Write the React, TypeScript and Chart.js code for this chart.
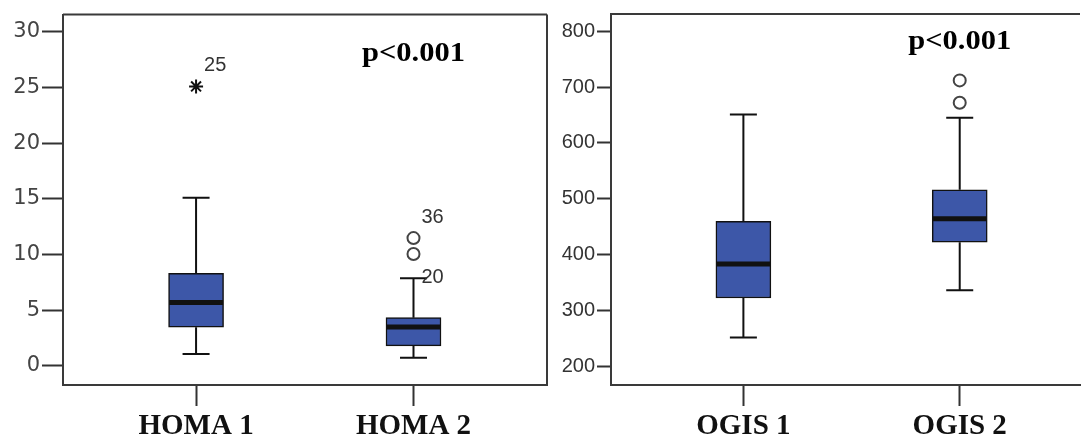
import React, { useEffect, useRef } from "react";
import { Chart, registerables } from "chart.js";

Chart.register(...registerables);

// ---------- HOMA panel data ----------
const homaCategories = ["HOMA 1", "HOMA 2"];
const homaMin = [1.05, 0.72];
const homaQ1 = [3.46, 1.79];
const homaMedian = [5.69, 3.49];
const homaQ3 = [8.31, 4.32];
const homaMax = [15.1, 7.86];
const homaExtremes = [{ cat: 1, value: 25.1 }];
const homaOutliers = [
  { cat: 2, value: 11.47 },
  { cat: 2, value: 10.04 },
];
const homaCaseLabels = [
  { cat: 1, value: 26.96, text: "25" },
  { cat: 2, value: 13.29, text: "36" },
  { cat: 2, value: 7.93, text: "20" },
];
const homaTicks = [0, 5, 10, 15, 20, 25, 30];
const homaRange = [-1.73, 31.55];
const homaP = { cat: 2, value: 28.0, text: "p<0.001" };

// ---------- OGIS panel data ----------
const ogisCategories = ["OGIS 1", "OGIS 2"];
const ogisMin = [251, 336];
const ogisQ1 = [322, 422];
const ogisMedian = [383, 464];
const ogisQ3 = [459.5, 516];
const ogisMax = [651, 645];
const ogisExtremes: { cat: number; value: number }[] = [];
const ogisOutliers = [
  { cat: 2, value: 712 },
  { cat: 2, value: 672 },
];
const ogisCaseLabels: { cat: number; value: number; text: string }[] = [];
const ogisTicks = [200, 300, 400, 500, 600, 700, 800];
const ogisRange = [166, 831];
const ogisP = { cat: 2, value: 780, text: "p<0.001" };

const BOX_FILL = "#3D57A8";
const INK = "#111";
const FRAME = "#3a3a3a";

const boxExtras = {
  id: "boxExtras",
  afterDatasetsDraw(chart: any) {
    const o = chart.options.plugins.boxExtras;
    if (!o) return;
    const { ctx, chartArea } = chart;
    const x = chart.scales.x;
    const y = chart.scales.y;
    ctx.save();
    // frame top and (optionally) right
    ctx.strokeStyle = FRAME;
    ctx.lineWidth = 2;
    ctx.beginPath();
    ctx.moveTo(chartArea.left, chartArea.top);
    ctx.lineTo(chartArea.right, chartArea.top);
    if (o.rightBorder) {
      ctx.moveTo(chartArea.right, chartArea.top);
      ctx.lineTo(chartArea.right, chartArea.bottom);
    }
    ctx.stroke();

    // whiskers, caps, medians
    o.min.forEach((mn: number, i: number) => {
      const px = x.getPixelForValue(i + 1);
      const yMin = y.getPixelForValue(mn);
      const yQ1 = y.getPixelForValue(o.q1[i]);
      const yQ3 = y.getPixelForValue(o.q3[i]);
      const yMax = y.getPixelForValue(o.max[i]);
      const yMed = y.getPixelForValue(o.median[i]);
      ctx.strokeStyle = INK;
      ctx.lineWidth = 2;
      ctx.beginPath();
      ctx.moveTo(px, yQ3);
      ctx.lineTo(px, yMax);
      ctx.moveTo(px, yQ1);
      ctx.lineTo(px, yMin);
      ctx.moveTo(px - 13.5, yMax);
      ctx.lineTo(px + 13.5, yMax);
      ctx.moveTo(px - 13.5, yMin);
      ctx.lineTo(px + 13.5, yMin);
      ctx.stroke();
      ctx.lineWidth = 5;
      ctx.beginPath();
      ctx.moveTo(px - 27, yMed);
      ctx.lineTo(px + 27, yMed);
      ctx.stroke();
    });

    // case labels
    ctx.fillStyle = "#333";
    ctx.font = '20px "Liberation Sans"';
    ctx.textAlign = "left";
    ctx.textBaseline = "middle";
    o.labels.forEach((l: any) => {
      ctx.fillText(l.text, x.getPixelForValue(l.cat) + 8, y.getPixelForValue(l.value));
    });

    // p value
    const p = o.p;
    ctx.fillStyle = "#000";
    ctx.font = 'bold 27px "Liberation Serif"';
    ctx.textAlign = "center";
    ctx.textBaseline = "middle";
    ctx.translate(x.getPixelForValue(p.cat), y.getPixelForValue(p.value));
    ctx.scale(1.13, 1);
    ctx.fillText(p.text, 0, 0);
    ctx.restore();
  },
};

function makeConfig(opts: any) {
  const positions = opts.categories.map((_: string, i: number) => i + 1);
  return {
    type: "bar",
    data: {
      datasets: [
        {
          type: "bar",
          data: positions.map((p: number, i: number) => ({ x: p, y: [opts.q1[i], opts.q3[i]] })),
          backgroundColor: BOX_FILL,
          borderColor: INK,
          borderWidth: 1.5,
          borderSkipped: false,
          barThickness: 55,
          order: 2,
        },
        {
          type: "scatter",
          data: opts.outliers.map((o: any) => ({ x: o.cat, y: o.value })),
          pointStyle: "circle",
          pointRadius: 6,
          pointBorderWidth: 2,
          pointBorderColor: "#444",
          pointBackgroundColor: "#fff",
          order: 1,
        },
        {
          type: "scatter",
          data: opts.extremes.map((o: any) => ({ x: o.cat, y: o.value })),
          pointStyle: "star",
          pointRadius: 7,
          pointBorderWidth: 2,
          pointBorderColor: INK,
          pointBackgroundColor: INK,
          order: 0,
        },
      ],
    },
    options: {
      responsive: false,
      animation: false,
      devicePixelRatio: 1,
      layout: { padding: { left: 0, top: 13, right: opts.padRight, bottom: 0 } },
      plugins: {
        legend: { display: false },
        tooltip: { enabled: false },
        boxExtras: {
          min: opts.min,
          q1: opts.q1,
          median: opts.median,
          q3: opts.q3,
          max: opts.max,
          labels: opts.labels,
          p: opts.p,
          rightBorder: opts.rightBorder,
        },
      },
      scales: {
        x: {
          type: "linear",
          min: opts.xMin,
          max: opts.xMax,
          offset: false,
          afterBuildTicks: (s: any) => {
            s.ticks = positions.map((v: number) => ({ value: v }));
          },
          afterFit: (s: any) => {
            s.height = 53;
          },
          ticks: {
            autoSkip: false,
            maxRotation: 0,
            padding: 3,
            color: "#111",
            font: { family: "Liberation Serif", size: 29, weight: "bold" },
            callback: (v: number) => opts.categories[Math.round(v) - 1] ?? "",
          },
          grid: {
            offset: false,
            drawOnChartArea: false,
            drawTicks: true,
            tickLength: 21,
            tickWidth: 2,
            tickColor: "#333",
          },
          border: { display: true, color: FRAME, width: 2 },
        },
        y: {
          type: "linear",
          min: opts.yRange[0],
          max: opts.yRange[1],
          afterBuildTicks: (s: any) => {
            s.ticks = opts.yTicks.map((v: number) => ({ value: v }));
          },
          afterFit: (s: any) => {
            s.width = opts.yWidth;
          },
          ticks: {
            padding: 2,
            color: opts.tickColor,
            font: opts.tickFont,
          },
          grid: {
            drawOnChartArea: false,
            drawTicks: true,
            tickLength: opts.yTickLen,
            tickWidth: 2,
            tickColor: "#333",
          },
          border: { display: true, color: FRAME, width: 2 },
        },
      },
    },
    plugins: [boxExtras],
  };
}

function Panel(props: { left: number; width: number; cfg: any }) {
  const ref = useRef<HTMLCanvasElement | null>(null);
  useEffect(() => {
    if (!ref.current) return;
    const chart = new Chart(ref.current, props.cfg);
    return () => chart.destroy();
  }, []);
  return (
    <canvas
      ref={ref}
      width={props.width}
      height={438}
      style={{ position: "absolute", left: props.left, top: 0, width: props.width, height: 438 }}
    />
  );
}

export default function App() {
  const homaCfg = makeConfig({
    categories: homaCategories,
    min: homaMin,
    q1: homaQ1,
    median: homaMedian,
    q3: homaQ3,
    max: homaMax,
    outliers: homaOutliers,
    extremes: homaExtremes,
    labels: homaCaseLabels,
    p: homaP,
    yTicks: homaTicks,
    yRange: homaRange,
    xMin: 0.388,
    xMax: 2.614,
    yWidth: 63,
    yTickLen: 21,
    padRight: 7,
    rightBorder: true,
    tickColor: "#444",
    tickFont: { family: "DejaVu Sans", size: 21 },
  });
  const ogisCfg = makeConfig({
    categories: ogisCategories,
    min: ogisMin,
    q1: ogisQ1,
    median: ogisMedian,
    q3: ogisQ3,
    max: ogisMax,
    outliers: ogisOutliers,
    extremes: ogisExtremes,
    labels: ogisCaseLabels,
    p: ogisP,
    yTicks: ogisTicks,
    yRange: ogisRange,
    xMin: 0.388,
    xMax: 2.556,
    yWidth: 55,
    yTickLen: 14,
    padRight: 0,
    rightBorder: false,
    tickColor: "#333",
    tickFont: { family: "Liberation Sans", size: 20 },
  });
  return (
    <div style={{ position: "fixed", left: 0, top: 0, width: 1088, height: 438, background: "#fff" }}>
      <Panel left={0} width={556} cfg={homaCfg} />
      <Panel left={556} width={532} cfg={ogisCfg} />
    </div>
  );
}
